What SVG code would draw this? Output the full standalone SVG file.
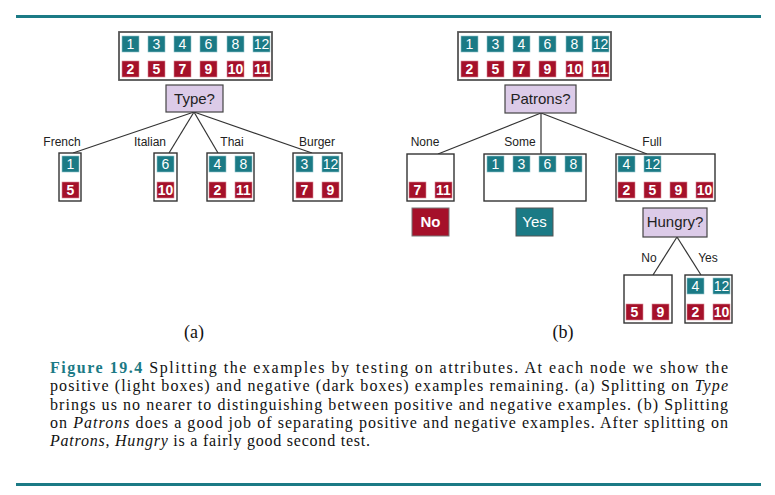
<svg xmlns="http://www.w3.org/2000/svg" width="775" height="495" viewBox="0 0 775 495">
<style>
.box{fill:#fff;stroke:#333;stroke-width:1.4}
.obox{fill:#fff;stroke:#555;stroke-width:1.8}
.test{fill:#dccbe8;stroke:#444;stroke-width:1.2}
.p{fill:#1b7a85;stroke:#8fc3c9;stroke-width:0.6}
.n{fill:#a5112a;stroke:#d98a96;stroke-width:0.6}
.pt{font-family:"Liberation Sans",Arial,sans-serif;font-size:14px;fill:#fff;text-anchor:middle}
.nt{font-family:"Liberation Sans",Arial,sans-serif;font-size:14px;font-weight:bold;fill:#fff;text-anchor:middle}
.tt{font-family:"Liberation Sans",Arial,sans-serif;font-size:15px;fill:#222;text-anchor:middle}
.lbl{font-family:"Liberation Sans",Arial,sans-serif;font-size:12px;fill:#222;text-anchor:middle}
.edge{stroke:#333;stroke-width:1.2;fill:none}
.cap{font-family:"Liberation Serif","Times New Roman",serif;font-size:16px;fill:#111}
.sub{font-family:"Liberation Serif","Times New Roman",serif;font-size:18px;fill:#111;text-anchor:middle}
.rule{stroke:#1b7a85;stroke-width:3}
</style>
<line class="rule" x1="16" y1="16.5" x2="761" y2="16.5"/>
<line class="rule" x1="16" y1="484.5" x2="761" y2="484.5"/>

<g id="connectors">
<line class="edge" x1="194" y1="112" x2="73" y2="153"/>
<line class="edge" x1="194" y1="112" x2="169" y2="153"/>
<line class="edge" x1="194" y1="112" x2="218" y2="153"/>
<line class="edge" x1="194" y1="112" x2="312" y2="153"/>
<line class="edge" x1="541" y1="113" x2="438" y2="154"/>
<line class="edge" x1="541" y1="113" x2="541" y2="154"/>
<line class="edge" x1="541" y1="113" x2="647" y2="154"/>
<line class="edge" x1="677" y1="237" x2="653" y2="275"/>
<line class="edge" x1="677" y1="237" x2="701" y2="275"/>
</g>

<g id="labels">
<text class="lbl" x="62" y="146">French</text>
<text class="lbl" x="150" y="146">Italian</text>
<text class="lbl" x="232" y="146">Thai</text>
<text class="lbl" x="317" y="146">Burger</text>
<text class="lbl" x="425" y="146">None</text>
<text class="lbl" x="520" y="146">Some</text>
<text class="lbl" x="652" y="146">Full</text>
<text class="lbl" x="649" y="262">No</text>
<text class="lbl" x="708" y="262">Yes</text>
</g>

<g id="rootA">
<rect class="obox" x="119" y="32" width="153" height="48"/>
<rect class="p" x="122" y="36" width="17" height="16"/><text class="pt" x="130.5" y="49">1</text>
<rect class="p" x="148" y="36" width="17" height="16"/><text class="pt" x="156.5" y="49">3</text>
<rect class="p" x="174" y="36" width="17" height="16"/><text class="pt" x="182.5" y="49">4</text>
<rect class="p" x="200" y="36" width="17" height="16"/><text class="pt" x="208.5" y="49">6</text>
<rect class="p" x="227" y="36" width="17" height="16"/><text class="pt" x="235.5" y="49">8</text>
<rect class="p" x="253" y="36" width="17" height="16"/><text class="pt" x="261.5" y="49">12</text>
<rect class="n" x="122" y="61" width="17" height="16"/><text class="nt" x="130.5" y="74">2</text>
<rect class="n" x="148" y="61" width="17" height="16"/><text class="nt" x="156.5" y="74">5</text>
<rect class="n" x="174" y="61" width="17" height="16"/><text class="nt" x="182.5" y="74">7</text>
<rect class="n" x="200" y="61" width="17" height="16"/><text class="nt" x="208.5" y="74">9</text>
<rect class="n" x="227" y="61" width="17" height="16"/><text class="nt" x="235.5" y="74">10</text>
<rect class="n" x="253" y="61" width="17" height="16"/><text class="nt" x="261.5" y="74">11</text>
</g>
<g id="typeTest">
<rect class="test" x="166" y="85" width="57" height="27"/>
<text class="tt" x="194.5" y="104">Type?</text>
</g>
<g id="french">
<rect class="box" x="59" y="153" width="22" height="48"/>
<rect class="p" x="62" y="156" width="17" height="16"/><text class="pt" x="70.5" y="169">1</text>
<rect class="n" x="62" y="182" width="17" height="16"/><text class="nt" x="70.5" y="195">5</text>
</g>
<g id="italian">
<rect class="box" x="154" y="153" width="23" height="48"/>
<rect class="p" x="157" y="156" width="17" height="16"/><text class="pt" x="165.5" y="169">6</text>
<rect class="n" x="157" y="182" width="17" height="16"/><text class="nt" x="165.5" y="195">10</text>
</g>
<g id="thai">
<rect class="box" x="207" y="153" width="47" height="48"/>
<rect class="p" x="209" y="156" width="17" height="16"/><text class="pt" x="217.5" y="169">4</text>
<rect class="p" x="235" y="156" width="17" height="16"/><text class="pt" x="243.5" y="169">8</text>
<rect class="n" x="209" y="182" width="17" height="16"/><text class="nt" x="217.5" y="195">2</text>
<rect class="n" x="235" y="182" width="17" height="16"/><text class="nt" x="243.5" y="195">11</text>
</g>
<g id="burger">
<rect class="box" x="293" y="153" width="49" height="48"/>
<rect class="p" x="296" y="156" width="17" height="16"/><text class="pt" x="304.5" y="169">3</text>
<rect class="p" x="322" y="156" width="17" height="16"/><text class="pt" x="330.5" y="169">12</text>
<rect class="n" x="296" y="182" width="17" height="16"/><text class="nt" x="304.5" y="195">7</text>
<rect class="n" x="322" y="182" width="17" height="16"/><text class="nt" x="330.5" y="195">9</text>
</g>

<g id="rootB">
<rect class="obox" x="458" y="32" width="153" height="48"/>
<rect class="p" x="461" y="36" width="17" height="16"/><text class="pt" x="469.5" y="49">1</text>
<rect class="p" x="487" y="36" width="17" height="16"/><text class="pt" x="495.5" y="49">3</text>
<rect class="p" x="513" y="36" width="17" height="16"/><text class="pt" x="521.5" y="49">4</text>
<rect class="p" x="539" y="36" width="17" height="16"/><text class="pt" x="547.5" y="49">6</text>
<rect class="p" x="566" y="36" width="17" height="16"/><text class="pt" x="574.5" y="49">8</text>
<rect class="p" x="592" y="36" width="17" height="16"/><text class="pt" x="600.5" y="49">12</text>
<rect class="n" x="461" y="61" width="17" height="16"/><text class="nt" x="469.5" y="74">2</text>
<rect class="n" x="487" y="61" width="17" height="16"/><text class="nt" x="495.5" y="74">5</text>
<rect class="n" x="513" y="61" width="17" height="16"/><text class="nt" x="521.5" y="74">7</text>
<rect class="n" x="539" y="61" width="17" height="16"/><text class="nt" x="547.5" y="74">9</text>
<rect class="n" x="566" y="61" width="17" height="16"/><text class="nt" x="574.5" y="74">10</text>
<rect class="n" x="592" y="61" width="17" height="16"/><text class="nt" x="600.5" y="74">11</text>
</g>
<g id="patronsTest">
<rect class="test" x="505" y="85" width="71" height="28"/>
<text class="tt" x="540.5" y="104">Patrons?</text>
</g>
<g id="none">
<rect class="box" x="407" y="154" width="47" height="47"/>
<rect class="n" x="409" y="182" width="17" height="16"/><text class="nt" x="417.5" y="195">7</text>
<rect class="n" x="435" y="182" width="17" height="16"/><text class="nt" x="443.5" y="195">11</text>
</g>
<g id="some">
<rect class="box" x="484" y="154" width="102" height="47"/>
<rect class="p" x="487" y="156" width="17" height="16"/><text class="pt" x="495.5" y="169">1</text>
<rect class="p" x="513" y="156" width="17" height="16"/><text class="pt" x="521.5" y="169">3</text>
<rect class="p" x="539" y="156" width="17" height="16"/><text class="pt" x="547.5" y="169">6</text>
<rect class="p" x="565" y="156" width="17" height="16"/><text class="pt" x="573.5" y="169">8</text>
</g>
<g id="full">
<rect class="box" x="616" y="154" width="99" height="47"/>
<rect class="p" x="618" y="156" width="17" height="16"/><text class="pt" x="626.5" y="169">4</text>
<rect class="p" x="644" y="156" width="17" height="16"/><text class="pt" x="652.5" y="169">12</text>
<rect class="n" x="618" y="182" width="17" height="16"/><text class="nt" x="626.5" y="195">2</text>
<rect class="n" x="644" y="182" width="17" height="16"/><text class="nt" x="652.5" y="195">5</text>
<rect class="n" x="670" y="182" width="17" height="16"/><text class="nt" x="678.5" y="195">9</text>
<rect class="n" x="696" y="182" width="17" height="16"/><text class="nt" x="704.5" y="195">10</text>
</g>
<g id="leafNo">
<rect class="n" x="412" y="208" width="37" height="28" style="stroke:#777;stroke-width:1"/>
<text class="nt" x="430.5" y="227" style="font-size:15px">No</text>
</g>
<g id="leafYes">
<rect class="p" x="516" y="208" width="37" height="28" style="stroke:#555;stroke-width:1"/>
<text class="pt" x="534.5" y="227" style="font-size:15px">Yes</text>
</g>
<g id="hungryTest">
<rect class="test" x="643" y="208" width="64" height="29"/>
<text class="tt" x="675" y="227">Hungry?</text>
</g>
<g id="hungryNo">
<rect class="box" x="624" y="275" width="48" height="48"/>
<rect class="n" x="626" y="304" width="17" height="16"/><text class="nt" x="634.5" y="317">5</text>
<rect class="n" x="652" y="304" width="17" height="16"/><text class="nt" x="660.5" y="317">9</text>
</g>
<g id="hungryYes">
<rect class="box" x="685" y="275" width="47" height="48"/>
<rect class="p" x="687" y="278" width="17" height="16"/><text class="pt" x="695.5" y="291">4</text>
<rect class="p" x="713" y="278" width="17" height="16"/><text class="pt" x="721.5" y="291">12</text>
<rect class="n" x="687" y="304" width="17" height="16"/><text class="nt" x="695.5" y="317">2</text>
<rect class="n" x="713" y="304" width="17" height="16"/><text class="nt" x="721.5" y="317">10</text>
</g>

<g id="caption">
<text class="sub" x="194" y="338">(a)</text>
<text class="sub" x="563" y="338">(b)</text>
<text class="cap" x="50" y="373" textLength="678" lengthAdjust="spacing"><tspan font-weight="bold" fill="#1b7a85">Figure 19.4</tspan> Splitting the examples by testing on attributes.  At each node we show the</text>
<text class="cap" x="50" y="391" textLength="678" lengthAdjust="spacing">positive (light boxes) and negative (dark boxes) examples remaining. (a) Splitting on <tspan font-style="italic">Type</tspan></text>
<text class="cap" x="50" y="409.5" textLength="678" lengthAdjust="spacing">brings us no nearer to distinguishing between positive and negative examples. (b) Splitting</text>
<text class="cap" x="50" y="427.5" textLength="678" lengthAdjust="spacing">on <tspan font-style="italic">Patrons</tspan> does a good job of separating positive and negative examples. After splitting on</text>
<text class="cap" x="50" y="445.5" textLength="320" lengthAdjust="spacing"><tspan font-style="italic">Patrons</tspan>, <tspan font-style="italic">Hungry</tspan> is a fairly good second test.</text>
</g>
</svg>
